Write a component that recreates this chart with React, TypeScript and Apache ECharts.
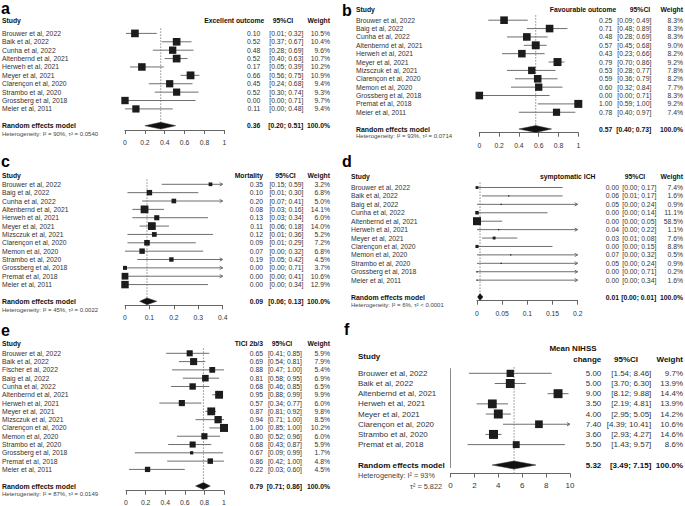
import React, { useEffect, useRef } from "react";
import * as echarts from "echarts";

const FONT = "'Liberation Sans', Arial, Helvetica, sans-serif";

// ---------- a: Excellent outcome ----------
const studiesA = ["Brouwer et al, 2022", "Baik et al, 2022", "Cunha et al, 2022", "Altenbernd et al, 2021", "Herweh et al, 2021", "Meyer et al, 2021", "Clarençon et al, 2020", "Strambo et al, 2020", "Grossberg et al, 2018", "Meier et al, 2011"];
const estA = [0.10, 0.52, 0.48, 0.52, 0.17, 0.66, 0.45, 0.52, 0.00, 0.11];
const lowerA = [0.01, 0.37, 0.28, 0.40, 0.05, 0.56, 0.24, 0.30, 0.00, 0.00];
const upperA = [0.32, 0.67, 0.69, 0.63, 0.39, 0.75, 0.68, 0.74, 0.71, 0.48];
const weightA = [10.5, 10.4, 9.6, 10.7, 10.2, 10.9, 9.4, 9.3, 9.7, 9.4];
const pooledA = [0.36, 0.20, 0.51];
const hetA = ["Heterogeneity: I² = 90%, τ² = 0.0540"];
const ticksA = [0, 0.2, 0.4, 0.6, 0.8, 1];

// ---------- b: Favourable outcome ----------
const studiesB = ["Brouwer et al, 2022", "Baig et al, 2022", "Cunha et al, 2022", "Altenbernd et al, 2021", "Herweh et al, 2021", "Meyer et al, 2021", "Mizsczuk et al, 2021", "Clarençon et al, 2020", "Memon et al, 2020", "Grossberg et al, 2018", "Premat et al, 2018", "Meier et al, 2011"];
const estB = [0.25, 0.71, 0.48, 0.57, 0.43, 0.79, 0.53, 0.59, 0.60, 0.00, 1.00, 0.78];
const lowerB = [0.09, 0.48, 0.28, 0.45, 0.23, 0.70, 0.28, 0.36, 0.32, 0.00, 0.59, 0.40];
const upperB = [0.49, 0.89, 0.69, 0.68, 0.66, 0.86, 0.77, 0.79, 0.84, 0.71, 1.00, 0.97];
const weightB = [8.3, 8.3, 8.3, 9.0, 8.2, 9.2, 7.8, 8.2, 7.7, 8.3, 9.2, 7.4];
const pooledB = [0.57, 0.40, 0.73];
const hetB = ["Heterogeneity: I² = 93%, τ² = 0.0714"];
const ticksB = [0, 0.2, 0.4, 0.6, 0.8, 1];

// ---------- c: Mortality ----------
const studiesC = ["Brouwer et al, 2022", "Baig et al, 2022", "Cunha et al, 2022", "Altenbernd et al, 2021", "Herweh et al, 2021", "Meyer et al, 2021", "Mizsczuk et al, 2021", "Clarençon et al, 2020", "Memon et al, 2020", "Strambo et al, 2020", "Grossberg et al, 2018", "Premat et al, 2018", "Meier et al, 2011"];
const estC = [0.35, 0.10, 0.20, 0.08, 0.13, 0.11, 0.12, 0.09, 0.07, 0.19, 0.00, 0.00, 0.00];
const lowerC = [0.15, 0.01, 0.07, 0.03, 0.03, 0.06, 0.01, 0.01, 0.00, 0.05, 0.00, 0.00, 0.00];
const upperC = [0.59, 0.30, 0.41, 0.16, 0.34, 0.18, 0.36, 0.29, 0.32, 0.42, 0.71, 0.41, 0.34];
const weightC = [3.2, 6.8, 5.0, 14.1, 6.0, 14.0, 5.2, 7.2, 6.8, 4.5, 3.7, 10.6, 12.9];
const pooledC = [0.09, 0.06, 0.13];
const hetC = ["Heterogeneity: I² = 45%, τ² = 0.0022"];
const ticksC = [0, 0.1, 0.2, 0.3, 0.4];

// ---------- d: symptomatic ICH ----------
const studiesD = ["Brouwer et al, 2022", "Baik et al, 2022", "Baig et al, 2022", "Cunha et al, 2022", "Altenbernd et al, 2021", "Herweh et al, 2021", "Meyer et al, 2021", "Clarençon et al, 2020", "Memon et al, 2020", "Strambo et al, 2020", "Grossberg et al, 2018", "Meier et al, 2011"];
const estD = [0.00, 0.063, 0.048, 0.00, 0.00, 0.043, 0.034, 0.00, 0.067, 0.048, 0.00, 0.00];
const lowerD = [0.00, 0.01, 0.00, 0.00, 0.00, 0.00, 0.01, 0.00, 0.00, 0.00, 0.00, 0.00];
const upperD = [0.17, 0.17, 0.24, 0.14, 0.05, 0.22, 0.08, 0.15, 0.32, 0.24, 0.71, 0.34];
const weightD = [7.4, 1.6, 0.9, 11.1, 58.5, 1.1, 7.6, 8.8, 0.5, 0.9, 0.2, 1.6];
const pooledD = [0.006, 0.001, 0.012];
const hetD = ["Heterogeneity: I² = 6%, τ² < 0.0001"];
const ticksD = [0, 0.05, 0.1, 0.15, 0.2];

// ---------- e: TICI 2b/3 ----------
const studiesE = ["Brouwer et al, 2022", "Baik et al, 2022", "Fischer et al, 2022", "Baig et al, 2022", "Cunha et al, 2022", "Altenbernd et al, 2021", "Herweh et al, 2021", "Meyer et al, 2021", "Mizsczuk et al, 2021", "Clarençon et al, 2020", "Memon et al, 2020", "Strambo et al, 2020", "Grossberg et al, 2018", "Premat et al, 2018", "Meier et al, 2011"];
const estE = [0.65, 0.69, 0.88, 0.81, 0.68, 0.95, 0.57, 0.87, 0.94, 1.00, 0.80, 0.68, 0.67, 0.86, 0.22];
const lowerE = [0.41, 0.54, 0.47, 0.58, 0.46, 0.88, 0.34, 0.81, 0.71, 0.85, 0.52, 0.43, 0.09, 0.42, 0.03];
const upperE = [0.85, 0.81, 1.00, 0.95, 0.85, 0.99, 0.77, 0.92, 1.00, 1.00, 0.96, 0.87, 0.99, 1.00, 0.60];
const weightE = [5.9, 7.9, 5.4, 6.9, 6.5, 9.9, 6.0, 9.8, 8.5, 10.2, 6.0, 5.9, 1.7, 4.8, 4.5];
const pooledE = [0.79, 0.71, 0.86];
const hetE = ["Heterogeneity: I² = 87%, τ² = 0.0149"];
const ticksE = [0, 0.2, 0.4, 0.6, 0.8, 1];

// ---------- f: Mean NIHSS change ----------
const studiesF = ["Brouwer et al, 2022", "Baik et al, 2022", "Altenbernd et al, 2021", "Herweh et al, 2021", "Meyer et al, 2021", "Clarençon et al, 2020", "Strambo et al, 2020", "Premat et al, 2018"];
const estF = [5.00, 5.00, 9.00, 3.50, 4.00, 7.40, 3.60, 5.50];
const lowerF = [1.54, 3.70, 8.12, 2.19, 2.95, 4.39, 2.93, 1.43];
const upperF = [8.46, 6.30, 9.88, 4.81, 5.05, 10.41, 4.27, 9.57];
const weightF = [9.7, 13.9, 14.4, 13.9, 14.2, 10.6, 14.6, 8.6];
const pooledF = [5.32, 3.49, 7.15];
const hetF = ["Heterogeneity: I² = 93%", "τ² = 5.822"];
const ticksF = [0, 2, 4, 6, 8, 10];

const POOLED_LABEL = "Random effects model";

type Hdr = { text: string; x: number; y: number; align: string };
type Layout = {
  x0: number; x1: number; firstY: number; pooledY: number; axisY: number;
  labelMargin: number; fs: number; hfs: number; hetFs: number; boxMax: number;
  nameX: number; estR: number; ciR: number; wR: number;
  letterX: number; letterY: number;
  headers: Hdr[];
  het: { x: number; y: number; align: string }[];
  nullLine?: boolean;
};
type Panel = {
  letter: string; studies: string[]; est: number[]; lower: number[]; upper: number[];
  weight: number[]; pooled: number[]; het: string[]; ticks: number[]; L: Layout;
};

const panels: Panel[] = [
  {
    letter: "a", studies: studiesA, est: estA, lower: lowerA, upper: upperA, weight: weightA, pooled: pooledA, het: hetA, ticks: ticksA,
    L: {
      x0: 125, x1: 224.3, firstY: 33.4, pooledY: 125.7, axisY: 130, labelMargin: 8.5, fs: 6.8, hfs: 6.8, hetFs: 6, boxMax: 7.8,
      nameX: 2, estR: 260.3, ciR: 303.3, wR: 330, letterX: 1, letterY: 8,
      headers: [
        { text: "Study", x: 2, y: 20, align: "left" },
        { text: "Excellent outcome", x: 264.3, y: 20, align: "right" },
        { text: "95%CI", x: 283, y: 20, align: "center" },
        { text: "Weight", x: 330, y: 20, align: "right" },
      ],
      het: [{ x: 2, y: 133.6, align: "left" }],
    },
  },
  {
    letter: "b", studies: studiesB, est: estB, lower: lowerB, upper: upperB, weight: weightB, pooled: pooledB, het: hetB, ticks: ticksB,
    L: {
      x0: 479.3, x1: 578.3, firstY: 20.2, pooledY: 129, axisY: 132.7, labelMargin: 9, fs: 6.8, hfs: 6.8, hetFs: 6, boxMax: 8,
      nameX: 356, estR: 612.3, ciR: 651.3, wR: 683, letterX: 342, letterY: 10,
      headers: [
        { text: "Study", x: 356, y: 9.3, align: "left" },
        { text: "Favourable outcome", x: 616.3, y: 9.3, align: "right" },
        { text: "95%CI", x: 640, y: 9.3, align: "center" },
        { text: "Weight", x: 683, y: 9.3, align: "right" },
      ],
      het: [{ x: 356, y: 136.3, align: "left" }],
    },
  },
  {
    letter: "c", studies: studiesC, est: estC, lower: lowerC, upper: upperC, weight: weightC, pooled: pooledC, het: hetC, ticks: ticksC,
    L: {
      x0: 125, x1: 222.7, firstY: 184.3, pooledY: 301.3, axisY: 305.3, labelMargin: 8.8, fs: 6.8, hfs: 6.8, hetFs: 6, boxMax: 7.8,
      nameX: 2, estR: 263, ciR: 303.5, wR: 330, letterX: 1, letterY: 161,
      headers: [
        { text: "Study", x: 2, y: 175, align: "left" },
        { text: "Mortality", x: 263, y: 175, align: "right" },
        { text: "95%CI", x: 285.5, y: 175, align: "center" },
        { text: "Weight", x: 330, y: 175, align: "right" },
      ],
      het: [{ x: 2, y: 309.5, align: "left" }],
    },
  },
  {
    letter: "d", studies: studiesD, est: estD, lower: lowerD, upper: upperD, weight: weightD, pooled: pooledD, het: hetD, ticks: ticksD,
    L: {
      x0: 477, x1: 577.7, firstY: 187.5, pooledY: 297, axisY: 300.7, labelMargin: 9.3, fs: 6.8, hfs: 6.8, hetFs: 6, boxMax: 8,
      nameX: 351, estR: 619, ciR: 656.3, wR: 683, letterX: 342, letterY: 161,
      headers: [
        { text: "Study", x: 351, y: 176.7, align: "left" },
        { text: "symptomatic ICH", x: 595.5, y: 176.7, align: "right" },
        { text: "95%CI", x: 635, y: 176.7, align: "center" },
        { text: "Weight", x: 683, y: 176.7, align: "right" },
      ],
      het: [{ x: 351, y: 305, align: "left" }],
    },
  },
  {
    letter: "e", studies: studiesE, est: estE, lower: lowerE, upper: upperE, weight: weightE, pooled: pooledE, het: hetE, ticks: ticksE,
    L: {
      x0: 126, x1: 224, firstY: 353.3, pooledY: 486, axisY: 490.7, labelMargin: 8, fs: 6.8, hfs: 6.8, hetFs: 6, boxMax: 8,
      nameX: 2, estR: 263, ciR: 302, wR: 330, letterX: 1, letterY: 330,
      headers: [
        { text: "Study", x: 2, y: 343, align: "left" },
        { text: "TICI 2b/3", x: 263, y: 343, align: "right" },
        { text: "95%CI", x: 282, y: 343, align: "center" },
        { text: "Weight", x: 330, y: 343, align: "right" },
      ],
      het: [{ x: 2, y: 494, align: "left" }],
    },
  },
  {
    letter: "f", studies: studiesF, est: estF, lower: lowerF, upper: upperF, weight: weightF, pooled: pooledF, het: hetF, ticks: ticksF,
    L: {
      x0: 450.5, x1: 570, firstY: 373.3, pooledY: 465, axisY: 473.5, labelMargin: 7.7, fs: 8, hfs: 8, hetFs: 7.3, boxMax: 9,
      nameX: 358, estR: 601.3, ciR: 651.3, wR: 683, letterX: 344, letterY: 329,
      headers: [
        { text: "Study", x: 358, y: 356.7, align: "left" },
        { text: "Mean NIHSS", x: 573, y: 348, align: "center" },
        { text: "change", x: 601.3, y: 359.7, align: "right" },
        { text: "95%CI", x: 626, y: 359.7, align: "center" },
        { text: "Weight", x: 683, y: 359.7, align: "right" },
      ],
      het: [
        { x: 358, y: 475.7, align: "left" },
        { x: 442, y: 486.7, align: "right" },
      ],
      nullLine: true,
    },
  },
];

const CI_COLOR = "#6e6e6e";
const BOX_COLOR = "#1c1c1c";
const TEXT_COLOR = "#333";

function txt(x: number, y: number, text: string, align: string, fs: number, bold = false, color = TEXT_COLOR) {
  return {
    type: "text",
    x,
    y,
    silent: true,
    style: {
      text,
      fill: color,
      fontSize: fs,
      fontFamily: FONT,
      fontWeight: bold ? "bold" : "normal",
      textAlign: align,
      textVerticalAlign: "middle",
    },
  };
}

function rowGeom(L: Layout, n: number) {
  const s = (L.pooledY - L.firstY) / (n + 1);
  return { s, top: L.firstY - s, yMax: (L.axisY - L.firstY) / s };
}

function buildOption() {
  const grids: any[] = [];
  const xAxes: any[] = [];
  const yAxes: any[] = [];
  const series: any[] = [];

  panels.forEach((p, k) => {
    const L = p.L;
    const n = p.studies.length;
    const { top, yMax } = rowGeom(L, n);
    const xmin = p.ticks[0];
    const xmax = p.ticks[p.ticks.length - 1];
    const maxW = Math.max(...p.weight);

    grids.push({ show: false, left: L.x0, width: L.x1 - L.x0, top, height: L.axisY - top });
    xAxes.push({
      gridIndex: k, type: "value", min: xmin, max: xmax, interval: p.ticks[1] - p.ticks[0],
      axisLine: { show: true, onZero: false, lineStyle: { color: "#666", width: 1 } },
      axisTick: { show: true, length: 4, lineStyle: { color: "#666", width: 1 } },
      axisLabel: { show: true, fontSize: L.fs, color: TEXT_COLOR, fontFamily: FONT, margin: L.labelMargin },
      splitLine: { show: false },
    });
    yAxes.push({
      gridIndex: k, type: "value", inverse: true, min: -1, max: yMax, show: false,
      splitLine: { show: false },
    });

    // marks only: pooled row (kind 1) first, then studies (kind 0)
    const rows: number[][] = [[p.pooled[0], n + 1, p.pooled[1], p.pooled[2], 100, 1]];
    p.studies.forEach((_, i) => rows.push([p.est[i], i, p.lower[i], p.upper[i], p.weight[i], 0]));

    series.push({
      type: "custom", xAxisIndex: k, yAxisIndex: k, clip: false, silent: true,
      data: rows,
      renderItem: (_params: any, api: any) => {
        const est = api.value(0), row = api.value(1), lo = api.value(2), hi = api.value(3), w = api.value(4), kind = api.value(5);
        const [xe, y] = api.coord([est, row]);
        const children: any[] = [];
        if (kind === 1) {
          const xl = api.coord([lo, row])[0];
          const xh = api.coord([hi, row])[0];
          const yTop = api.coord([est, -0.6])[1];
          const yBot = api.coord([est, yMax])[1];
          const hh = L.fs * 0.5;
          if (L.nullLine) {
            const [x0n, y0n] = api.coord([0, -0.5]);
            const y1n = api.coord([0, n + 1.3])[1];
            children.push({ type: "line", shape: { x1: x0n, y1: y0n, x2: x0n, y2: y1n }, style: { stroke: "#8a8a8a", lineWidth: 1 } });
          }
          children.push({
            type: "line", shape: { x1: xe, y1: yTop, x2: xe, y2: yBot },
            style: { stroke: "#8a8a8a", lineWidth: 1, lineDash: [1.5, 1.5] },
          });
          children.push({
            type: "polygon",
            shape: { points: [[xl, y], [xe, y - hh], [xh, y], [xe, y + hh]] },
            style: { fill: "#111", stroke: "#333", lineWidth: 0.5 },
          });
        } else {
          const xl = api.coord([Math.max(lo, xmin), row])[0];
          const xh = api.coord([Math.min(hi, xmax), row])[0];
          const size = Math.max(1.3, L.boxMax * Math.sqrt(w / maxW));
          children.push({ type: "line", shape: { x1: xl, y1: y, x2: xh, y2: y }, style: { stroke: CI_COLOR, lineWidth: 1 } });
          if (hi > xmax) {
            children.push({
              type: "polyline",
              shape: { points: [[xh - 3, y - 1.6], [xh, y], [xh - 3, y + 1.6]] },
              style: { stroke: CI_COLOR, fill: null, lineWidth: 1 },
            });
          }
          children.push({
            type: "rect",
            shape: { x: xe - size / 2, y: y - size / 2, width: size, height: size },
            style: { fill: BOX_COLOR },
          });
        }
        return { type: "group", children };
      },
    });
  });

  return {
    animation: false,
    grid: grids,
    xAxis: xAxes,
    yAxis: yAxes,
    series,
  };
}

// table text, placed on the rows of each panel's own y axis
function buildTexts(chart: any) {
  const g: any[] = [];
  panels.forEach((p, k) => {
    const L = p.L;
    const n = p.studies.length;
    const rowY = (row: number) => {
      const pt = chart.convertToPixel({ gridIndex: k }, [p.ticks[0], row]);
      return pt ? pt[1] : 0;
    };
    p.studies.forEach((name, i) => {
      const y = rowY(i);
      g.push(txt(L.nameX, y, name, "left", L.fs));
      g.push(txt(L.estR, y, p.est[i].toFixed(2), "right", L.fs));
      g.push(txt(L.ciR, y, `[${p.lower[i].toFixed(2)}; ${p.upper[i].toFixed(2)}]`, "right", L.fs));
      g.push(txt(L.wR, y, `${p.weight[i].toFixed(1)}%`, "right", L.fs));
    });
    const yp = rowY(n + 1);
    g.push(txt(L.nameX, yp, POOLED_LABEL, "left", L.fs + 0.1, true, "#111"));
    g.push(txt(L.estR, yp, p.pooled[0].toFixed(2), "right", L.fs, true, "#111"));
    g.push(txt(L.ciR, yp, `[${p.pooled[1].toFixed(2)}; ${p.pooled[2].toFixed(2)}]`, "right", L.fs, true, "#111"));
    g.push(txt(L.wR, yp, "100.0%", "right", L.fs, true, "#111"));
    p.het.forEach((h, j) => {
      const pos = L.het[j];
      g.push(txt(pos.x, pos.y, h, pos.align, L.hetFs, false, "#444"));
    });
    g.push(txt(L.letterX, L.letterY, p.letter, "left", 16, true, "#000"));
    L.headers.forEach((h) => g.push(txt(h.x, h.y, h.text, h.align, L.hfs, true, "#111")));
  });
  return g;
}

export default function App() {
  const ref = useRef<HTMLDivElement>(null);
  useEffect(() => {
    if (!ref.current) return;
    const chart = echarts.init(ref.current, undefined, { renderer: "svg" });
    chart.setOption(buildOption() as any);
    chart.setOption({ graphic: buildTexts(chart) } as any);
    return () => chart.dispose();
  }, []);
  return (
    <div
      ref={ref}
      style={{ position: "absolute", left: 0, top: 0, width: 685, height: 506, background: "#fff" }}
    />
  );
}
